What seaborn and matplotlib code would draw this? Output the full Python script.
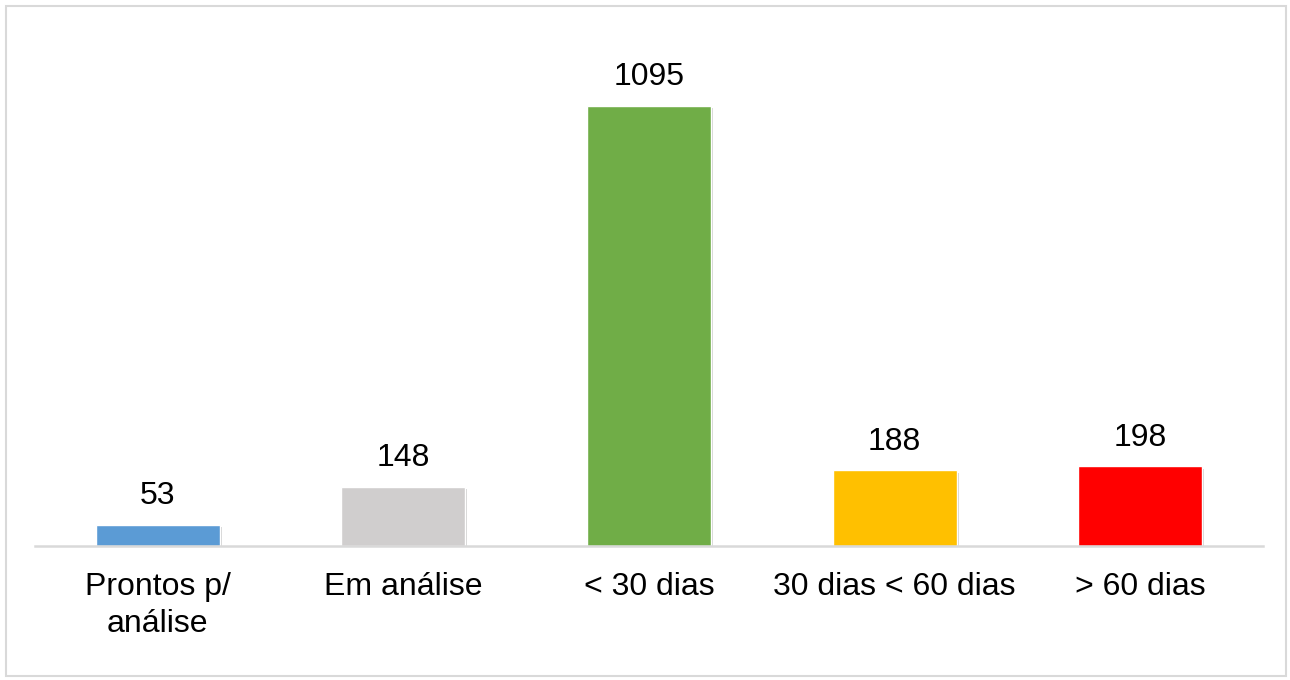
import matplotlib
matplotlib.use("Agg")
import matplotlib.pyplot as plt
import matplotlib.patheffects as pe
from matplotlib.patches import Rectangle
import seaborn as sns
import pandas as pd

categorias = ["Prontos p/\nanálise", "Em análise", "< 30 dias", "30 dias < 60 dias", "> 60 dias"]
valores = [53, 148, 1095, 188, 198]
cores = ["#5B9BD5", "#D0CECE", "#70AD47", "#FFC000", "#FF0000"]

df = pd.DataFrame({"cat": categorias, "val": valores})

sns.set_style("white")
plt.rcParams["font.family"] = ["Liberation Sans", "DejaVu Sans"]

fig = plt.figure(figsize=(12.9, 6.8), dpi=100)
ax = fig.add_axes([35 / 1290, 1 - 546 / 680, 1228 / 1290, 506 / 680])

sns.barplot(data=df, x="cat", y="val", hue="cat", palette=cores,
            legend=False, width=0.505, ax=ax, saturation=1)

for p in ax.patches:
    p.set_path_effects([pe.SimplePatchShadow(offset=(1.5, -1.5), shadow_rgbFace="#000000", alpha=0.18), pe.Normal()])

for i, v in enumerate(valores):
    ax.annotate(str(v), (i, v), xytext=(0, 10), textcoords="offset points",
                ha="center", va="bottom", fontsize=23, color="black")

ax.set_ylim(0, 1259)
ax.set_xlim(-0.5, 4.5)
ax.set_yticks([])
ax.set_xlabel("")
ax.set_ylabel("")
for s in ["top", "left", "right"]:
    ax.spines[s].set_visible(False)
ax.spines["bottom"].set_color("#D9D9D9")
ax.spines["bottom"].set_linewidth(1.8)
ax.tick_params(axis="x", length=0, pad=19, labelsize=23, labelcolor="black")
for t in ax.get_xticklabels():
    t.set_linespacing(1.3)

fig.patches.append(Rectangle((6 / 1290, 4 / 680), 1280 / 1290, 670 / 680,
                             transform=fig.transFigure, fill=False,
                             edgecolor="#D9D9D9", linewidth=1.5))

fig.savefig("out.png", dpi=100)
